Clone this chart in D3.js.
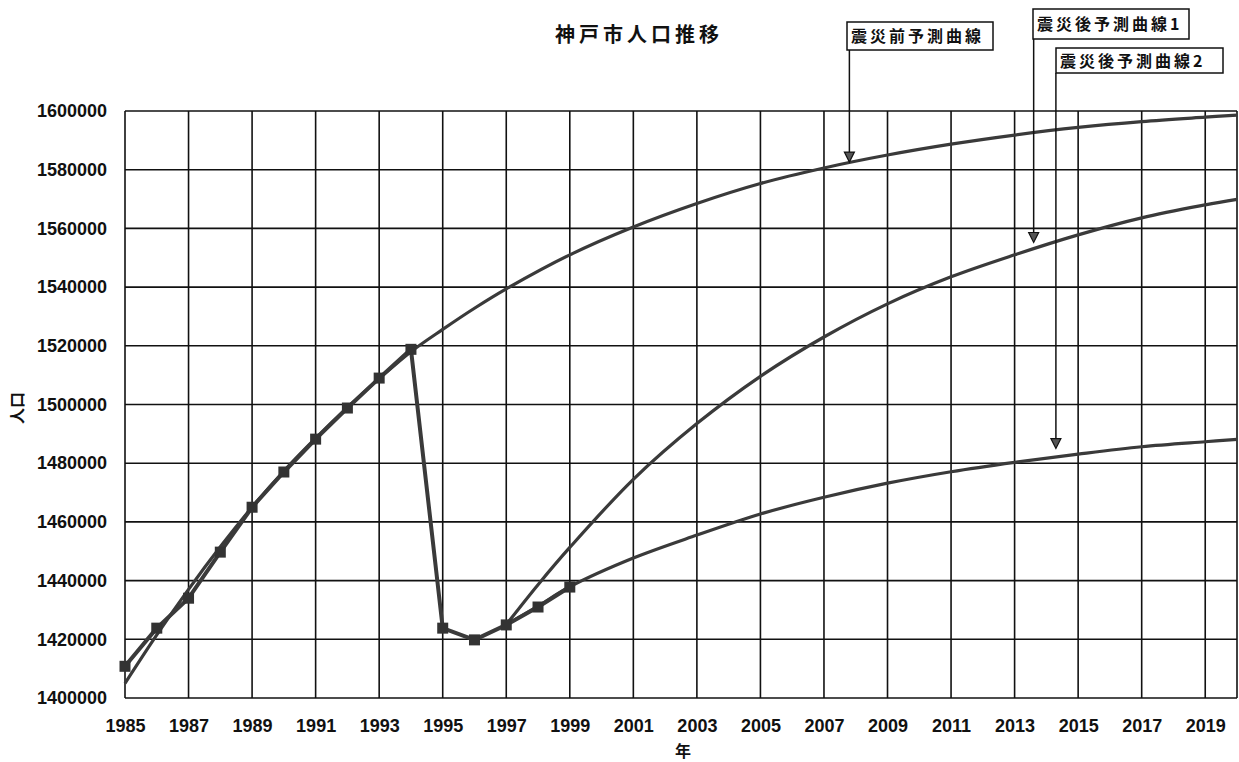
<!DOCTYPE html>
<html><head><meta charset="utf-8">
<script src="https://cdn.jsdelivr.net/npm/d3@7"></script>
<style>
html,body{margin:0;padding:0;background:#fff;}
svg{display:block;}
.tick text{font-family:"Liberation Sans",Arial,sans-serif;font-weight:bold;font-size:18px;fill:#111;}
</style>
</head><body>
<svg id="c" width="1239" height="762"></svg>
<script>
// ---- data ----
const actualYears = [1985,1986,1987,1988,1989,1990,1991,1992,1993,1994,1995,1996,1997,1998,1999];
const actualValues = [1410800,1423800,1434000,1449700,1465000,1477000,1488200,1498800,1509000,1518800,1423800,1419800,1424900,1431000,1437800];

const preYears = [1985,1986,1987,1988,1989,1990,1991,1992,1993,1994,1995,1996,1997,1999,2001,2003,2005,2007,2009,2011,2013,2015,2017,2019,2020];
const preValues = [1405000,1421500,1437000,1451500,1465000,1477300,1488500,1499000,1508800,1518000,1525600,1532800,1539400,1551000,1560500,1568500,1575300,1580600,1585000,1588700,1591800,1594400,1596400,1597900,1598600];

const post1Years = [1997,1998,1999,2001,2003,2005,2007,2009,2011,2013,2015,2017,2019,2020];
const post1Values = [1425000,1438600,1451300,1474500,1493500,1509600,1523000,1534300,1543500,1551000,1557800,1563600,1568000,1569900];

const post2Years = [1997,1998,1999,2001,2003,2005,2007,2009,2011,2013,2015,2017,2019,2020];
const post2Values = [1425000,1431300,1437900,1447700,1455500,1462700,1468400,1473200,1477100,1480300,1483100,1485600,1487300,1488100];

const xTickYears = [1985,1987,1989,1991,1993,1995,1997,1999,2001,2003,2005,2007,2009,2011,2013,2015,2017,2019];
const yTickValues = [1400000,1420000,1440000,1460000,1480000,1500000,1520000,1540000,1560000,1580000,1600000];

const titleText = "神戸市人口推移";
const xTitle = "年";
const yTitle = "人口";
const calloutLabels = ["震災前予測曲線","震災後予測曲線1","震災後予測曲線2"];
const calloutYears = [2007.8, 2013.6, 2014.3];
const calloutValues = [1582600, 1555200, 1485000];

// ---- layout ----
const svg = d3.select("#c");
const pL = 125, pR = 1237, pT = 111, pB = 698;
const x = d3.scaleLinear().domain([1985, 2020]).range([pL, pR]);
const y = d3.scaleLinear().domain([1400000, 1600000]).range([pB, pT]);
const ink = "#111";
const lineCol = "#3a3a3a";

// gridlines
const g = svg.append("g");
g.selectAll("line.h").data(yTickValues).enter().append("line")
  .attr("x1", pL).attr("x2", pR)
  .attr("y1", d => y(d)).attr("y2", d => y(d))
  .attr("stroke", ink).attr("stroke-width", 1.6);
g.selectAll("line.v").data(xTickYears.concat([2020])).enter().append("line")
  .attr("x1", d => x(d)).attr("x2", d => x(d))
  .attr("y1", pT).attr("y2", pB)
  .attr("stroke", ink).attr("stroke-width", 1.6);

// axes (labels only)
const ya = svg.append("g").attr("transform", `translate(${pL},0)`)
  .call(d3.axisLeft(y).tickValues(yTickValues).tickSize(0).tickPadding(18).tickFormat(d3.format("d")));
ya.select(".domain").remove();
const xa = svg.append("g").attr("transform", `translate(0,${pB})`)
  .call(d3.axisBottom(x).tickValues(xTickYears).tickSize(0).tickPadding(21).tickFormat(d3.format("d")));
xa.select(".domain").remove();

// curves
const curveLine = d3.line().x(d => x(d[0])).y(d => y(d[1])).curve(d3.curveCatmullRom.alpha(0.5));
function zip(a, b){ return a.map((v,i)=>[v,b[i]]); }
[[preYears,preValues],[post1Years,post1Values],[post2Years,post2Values]].forEach(([ys,vs])=>{
  svg.append("path").datum(zip(ys,vs)).attr("d", curveLine)
    .attr("fill","none").attr("stroke", lineCol).attr("stroke-width", 3.2);
});

// actual series
const polyLine = d3.line().x(d => x(d[0])).y(d => y(d[1]));
const actual = zip(actualYears, actualValues);
svg.append("path").datum(actual).attr("d", polyLine)
  .attr("fill","none").attr("stroke", lineCol).attr("stroke-width", 4).attr("stroke-linejoin","round");
svg.selectAll("rect.m").data(actual).enter().append("rect")
  .attr("x", d => x(d[0]) - 5.5).attr("y", d => y(d[1]) - 5.5)
  .attr("width", 11).attr("height", 11).attr("fill", "#333");

// title
svg.append("text").attr("x", 639).attr("y", 42).attr("text-anchor","middle")
  .attr("font-family","'Noto Sans CJK JP',sans-serif").attr("font-weight","bold")
  .attr("font-size", 20).attr("letter-spacing", 4).attr("fill", ink).text(titleText);

// axis titles
svg.append("text").attr("x", 683).attr("y", 757).attr("text-anchor","middle")
  .attr("font-family","'Noto Sans CJK JP',sans-serif").attr("font-weight","bold")
  .attr("font-size", 16).attr("fill", ink).text(xTitle);
svg.append("text").attr("transform","translate(23,408) rotate(-90)").attr("text-anchor","middle")
  .attr("font-family","'Noto Sans CJK JP',sans-serif").attr("font-weight","bold")
  .attr("font-size", 16).attr("fill", ink).text(yTitle);

// callouts
const boxes = [
  {x0:847, y0:22, w:146, h:28},
  {x0:1033, y0:9, w:156, h:30},
  {x0:1056, y0:48, w:167, h:25}
];
calloutLabels.forEach((lab,i)=>{
  const b = boxes[i];
  const tx = x(calloutYears[i]), ty = y(calloutValues[i]);
  svg.append("line").attr("x1", tx).attr("x2", tx).attr("y1", b.y0 + b.h).attr("y2", ty - 8)
    .attr("stroke", ink).attr("stroke-width", 1.5);
  svg.append("path").attr("d", `M${tx-5},${ty-10} L${tx+5},${ty-10} L${tx},${ty} Z`)
    .attr("fill","#555").attr("stroke", ink).attr("stroke-width", 1.2);
  svg.append("rect").attr("x", b.x0).attr("y", b.y0).attr("width", b.w).attr("height", b.h)
    .attr("fill","#fff").attr("stroke", ink).attr("stroke-width", 1.5);
  svg.append("text").attr("x", b.x0 + 4).attr("y", b.y0 + b.h/2 + 6)
    .attr("font-family","'Noto Sans CJK JP',sans-serif").attr("font-weight","bold")
    .attr("font-size", 16).attr("letter-spacing", 3).attr("fill", ink).text(lab);
});
</script>
</body></html>
